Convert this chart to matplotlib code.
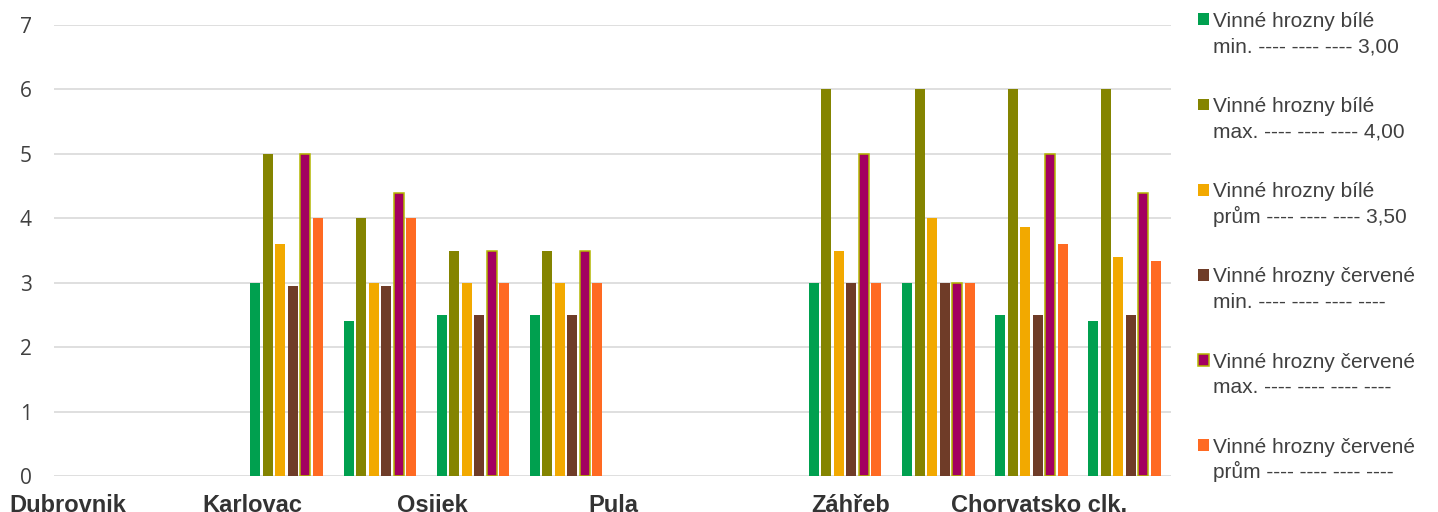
import matplotlib
matplotlib.use("Agg")
import matplotlib.pyplot as plt
import numpy as np
from matplotlib.patches import Rectangle

# ---- data ----
# 12 category slots on the axis (empty slots have no bars)
slots = list(range(12))
bile_min   = [np.nan, np.nan, 3.0, 2.4, 2.5, 2.5, np.nan, np.nan, 3.0, 3.0, 2.5, 2.4]
bile_max   = [np.nan, np.nan, 5.0, 4.0, 3.5, 3.5, np.nan, np.nan, 6.0, 6.0, 6.0, 6.0]
bile_prum  = [np.nan, np.nan, 3.6, 3.0, 3.0, 3.0, np.nan, np.nan, 3.5, 4.0, 3.86, 3.4]
cerv_min   = [np.nan, np.nan, 2.95, 2.95, 2.5, 2.5, np.nan, np.nan, 3.0, 3.0, 2.5, 2.5]
cerv_max   = [np.nan, np.nan, 5.0, 4.4, 3.5, 3.5, np.nan, np.nan, 5.0, 3.0, 5.0, 4.4]
cerv_prum  = [np.nan, np.nan, 4.0, 4.0, 3.0, 3.0, np.nan, np.nan, 3.0, 3.0, 3.6, 3.33]

tick_labels = ["Dubrovnik", "Karlovac", "Osijek", "Pula", "Záhřeb", "Chorvatsko clk."]
tick_pos = [-0.35, 1.63, 3.56, 5.51, 8.06, 10.08]

legend_line1 = ["Vinné hrozny bílé", "Vinné hrozny bílé", "Vinné hrozny bílé",
                "Vinné hrozny červené", "Vinné hrozny červené", "Vinné hrozny červené"]
legend_line2 = ["min. ---- ---- ---- 3,00", "max. ---- ---- ---- 4,00",
                "prům ---- ---- ---- 3,50", "min. ---- ---- ---- ----",
                "max. ---- ---- ---- ----", "prům ---- ---- ---- ----"]

series = [bile_min, bile_max, bile_prum, cerv_min, cerv_max, cerv_prum]
colors = ["#00a04f", "#848400", "#f2a900", "#6f3c28", "#a30060", "#ff6a22"]
edgecols = [None, None, None, None, "#b3b600", None]

# ---- figure ----
W, H = 1438, 512
fig = plt.figure(figsize=(W / 100, H / 100), dpi=100)
ax_l, ax_r, ax_t, ax_b = 54, 1171, 25, 476
ax = fig.add_axes([ax_l / W, 1 - ax_b / H, (ax_r - ax_l) / W, (ax_b - ax_t) / H])

pitch = 0.1343
bw = 0.1074
x = np.array(slots, dtype=float)
for j, (vals, c, ec) in enumerate(zip(series, colors, edgecols)):
    off = (j - 2.5) * pitch
    if ec:
        ax.bar(x + off, vals, width=bw, color=c, edgecolor=ec, linewidth=1.1, zorder=3)
    else:
        ax.bar(x + off, vals, width=bw, color=c, linewidth=0, zorder=3)

ax.set_xlim(-0.5, 11.5)
ax.set_ylim(0, 7)
ax.set_yticks(range(0, 8))
ax.yaxis.grid(True, color="#d9d9d9", linewidth=1.2, zorder=0)
ax.set_axisbelow(True)
for s in ax.spines.values():
    s.set_visible(False)
ax.tick_params(axis="y", length=0, pad=16, labelsize=15, labelcolor="#404040")
for lab in ax.get_yticklabels():
    lab.set_fontfamily("Open Sans")
ax.set_xticks(tick_pos)
ax.set_xticklabels(tick_labels, fontsize=17, fontweight="bold", color="#333333",
                   fontfamily="Liberation Sans")
ax.tick_params(axis="x", length=0, pad=13)

# ---- legend (manual, in pixel coordinates) ----
step = 85.2
for i in range(6):
    y0 = 13.4 + i * step
    rect = Rectangle((1198 / W, 1 - (y0 + 11.8) / H), 11.4 / W, 11.8 / H,
                     transform=fig.transFigure, facecolor=colors[i],
                     edgecolor=edgecols[i] if edgecols[i] else "none",
                     linewidth=1.1 if edgecols[i] else 0)
    fig.patches.append(rect)
    fig.text(1213 / W, 1 - (26.7 + i * step) / H, legend_line1[i], fontsize=15,
             color="#404040", family="Liberation Sans", va="baseline", ha="left")
    fig.text(1213 / W, 1 - (52.4 + i * step) / H, legend_line2[i], fontsize=15,
             color="#404040", family="Liberation Sans", va="baseline", ha="left")

fig.savefig("out.png", dpi=100)
